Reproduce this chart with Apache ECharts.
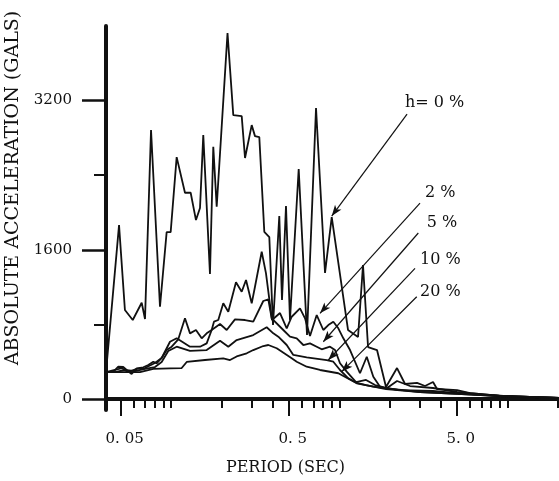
<!DOCTYPE html>
<html>
<head>
<meta charset="utf-8">
<script src="https://cdn.jsdelivr.net/npm/echarts@6.0.0/dist/echarts.min.js"></script>
<style>
html, body { margin: 0; padding: 0; background: #fff; }
#chart { width: 559px; height: 481px; }
</style>
</head>
<body>
<div id="chart"></div>
<script>
// response spectra, [period (sec), absolute acceleration (gals)]
var h0 = [[0.0409,289],[0.0489,1865],[0.0530,954],[0.0590,847],[0.0667,1032],[0.0698,858],[0.0758,2884],
	[0.0857,989],[0.0939,1790],[0.0992,1790],[0.1077,2594],[0.1207,2212],[0.1305,2212],[0.1403,1919],
	[0.1483,2048],[0.1551,2830],[0.1700,1340],[0.1779,2705],[0.1864,2061],[0.2162,3924],[0.2340,3044],
	[0.2626,3034],[0.2748,2584],[0.3012,2937],[0.3150,2819],[0.3342,2809],[0.3579,1793],[0.3833,1737],
	[0.4032,793],[0.4395,1962],[0.4561,1061],[0.4818,2069],[0.5089,847],[0.5734,2466],[0.6426,686],
	[0.7270,3120],[0.8224,1351],[0.9016,1951],[1.127,740],[1.293,665],[1.384,1436],[1.483,557],
	[1.677,525],[1.897,129],[2.206,332],[2.462,161],[2.902,172],[3.238,139],[3.613,182],[3.817,107],
	[5.021,96],[6.001,64],[7.893,43],[11.91,21],[20.3,11]];
var h2 = [[0.0409,289],[0.0450,289],[0.0484,346],[0.0518,343],[0.0543,311],[0.0581,268],[0.0623,329],
	[0.0682,340],[0.0730,364],[0.0782,400],[0.0819,383],[0.0877,440],[0.0939,525],[0.1006,561],
	[0.1101,640],[0.1207,865],[0.1293,704],[0.1403,740],[0.1518,651],[0.1625,704],[0.1740,740],
	[0.1796,829],[0.1905,847],[0.2040,1026],[0.2185,936],[0.2428,1251],[0.2626,1150],[0.2786,1276],
	[0.3012,1026],[0.3150,1204],[0.3454,1579],[0.3663,1347],[0.3977,847],[0.4438,922],[0.4865,758],
	[0.5210,882],[0.5838,972],[0.6252,865],[0.6695,675],[0.7340,900],[0.8035,740],[0.8604,793],
	[0.9215,829],[0.9867,758],[1.057,651],[1.159,525],[1.328,276],[1.457,453],[1.594,239],[1.747,132],
	[1.916,115],[2.206,193],[2.636,139],[3.613,118],[5.021,75],[9.05,32],[20.3,11]];
var h5 = [[0.0409,289],[0.0462,311],[0.0507,332],[0.0553,289],[0.0623,322],[0.0698,332],[0.0800,386],
	[0.0877,440],[0.0983,614],[0.1077,651],[0.1293,561],[0.1483,561],[0.1625,597],[0.1740,740],
	[0.1951,804],[0.2138,740],[0.2395,854],[0.2748,847],[0.3077,829],[0.3530,1051],[0.3781,1069],
	[0.3960,865],[0.4644,740],[0.5089,668],[0.5580,651],[0.6108,579],[0.6695,597],[0.7340,561],
	[0.7858,533],[0.8808,561],[0.9432,525],[1.010,383],[1.107,293],[1.258,182],[1.443,204],[1.632,150],
	[1.897,118],[2.299,96],[3.613,86],[5.021,64],[9.05,32],[20.3,11]];
var h10 = [[0.0409,289],[0.0462,289],[0.0530,311],[0.0608,300],[0.0698,322],[0.0800,343],[0.0877,397],
	[0.0960,515],[0.1077,561],[0.1293,515],[0.1625,525],[0.1951,625],[0.2185,561],[0.2451,632],
	[0.3077,686],[0.3698,769],[0.4049,704],[0.4336,668],[0.4865,579],[0.5325,472],[0.6398,447],
	[0.8418,418],[0.9215,400],[1.010,311],[1.132,222],[1.270,172],[1.443,150],[1.897,107],[3.023,75],
	[5.021,54],[9.05,32],[20.3,11]];
var h20 = [[0.0409,289],[0.0652,289],[0.0782,322],[0.0983,329],[0.1154,332],[0.1236,397],[0.1588,418],
	[0.2040,436],[0.2237,418],[0.2451,456],[0.2812,490],[0.3077,525],[0.3530,568],[0.3781,579],
	[0.4242,544],[0.5210,436],[0.5580,400],[0.6398,346],[0.7677,311],[0.9867,276],[1.270,168],
	[1.594,132],[1.916,115],[3.023,75],[5.021,54],[9.05,32],[20.3,11]];

var curves = [h0, h2, h5, h10, h20];
var names = ['h=0%', '2%', '5%', '10%', '20%'];

// annotation text and arrows, in data units
var noteText = ['h= 0 %', '2 %', '5 %', '10 %', '20 %'];
var noteAt = [[2.462,3173],[3.238,2208],[3.314,1887],[3.023,1490],[3.023,1147]];
var arrowFrom = [[2.531,3055],[3.023,2101],[2.953,1780],[2.823,1401],[2.89,1097]];
var arrowTo = [[0.9016,1962],[0.7677,919],[0.8035,614],[0.8604,418],[1.034,293]];

// axes
var xMajor = [0.05, 0.5, 5];
var xLabels = ['0. 05', '0. 5', '5. 0'];
var xMinor = [0.06,0.07,0.08,0.09,0.1,0.2,0.3,0.4,0.6,0.7,0.8,0.9,1,2,3,4,6,7,8,9,10,20];
var yMajor = [0, 1600, 3200];
var yMinor = [800, 2400];
var xMin = 0.0409, xMax = 20.3;
var yMin = -118, yMax = 4000;

var font = 'DejaVu Serif';
var ink = '#111';

function xLabel(v) {
	var best = 0;
	for (var i = 1; i < xMajor.length; i++) {
		if (Math.abs(Math.log(v / xMajor[i])) < Math.abs(Math.log(v / xMajor[best]))) best = i;
	}
	return xLabels[best];
}

var series = curves.map(function(d, i) {
	return {
		name : names[i],
		type : 'line',
		data : d,
		symbol : 'none',
		lineStyle : { color : ink, width : 1.8 },
		markLine : {
			silent : true,
			symbol : [ 'none', 'arrow' ],
			symbolSize : [ 6, 11 ],
			lineStyle : { color : ink, width : 1.2, type : 'solid' },
			label : { show : false },
			data : [ [ { coord : arrowFrom[i] }, { coord : arrowTo[i] } ] ]
		},
		markPoint : {
			silent : true,
			symbol : 'circle',
			symbolSize : 0,
			label : {
				show : true,
				position : 'right',
				distance : 0,
				formatter : noteText[i],
				color : ink,
				fontFamily : font,
				fontSize : 16
			},
			data : [ { coord : noteAt[i] } ]
		}
	};
});

var option = {
	animation : false,
	backgroundColor : '#fff',
	grid : { left : 106, right : 0, top : 26, bottom : 71, outerBoundsMode : 'none' },
	xAxis : [ {
		type : 'log',
		logBase : 10,
		min : xMin,
		max : xMax,
		axisLine : { onZero : true, lineStyle : { color : ink, width : 4 } },
		axisTick : { customValues : xMinor, length : 9, lineStyle : { color : ink, width : 2 } },
		minorTick : { show : false },
		axisLabel : {
			customValues : xMajor,
			formatter : xLabel,
			margin : 22,
			padding : [ 0, 0, 0, 8 ],
			color : ink,
			fontFamily : font,
			fontSize : 15
		},
		splitLine : { show : false },
		name : 'PERIOD (SEC)',
		nameLocation : 'middle',
		nameGap : 50,
		nameTextStyle : { color : ink, fontFamily : font, fontSize : 16, padding : [ 0, 94, 0, 0 ] }
	}, {
		type : 'log',
		logBase : 10,
		min : xMin,
		max : xMax,
		position : 'bottom',
		axisLine : { show : false, onZero : true },
		axisTick : { customValues : xMajor, length : 17, lineStyle : { color : ink, width : 2 } },
		minorTick : { show : false },
		axisLabel : { show : false },
		splitLine : { show : false }
	} ],
	yAxis : [ {
		type : 'value',
		min : yMin,
		max : yMax,
		position : 'left',
		axisLine : { show : true, onZero : false, lineStyle : { color : ink, width : 4 } },
		axisTick : { customValues : yMajor, length : 24, lineStyle : { color : ink, width : 2.5 } },
		axisLabel : {
			customValues : yMajor,
			formatter : function(v) { return String(v); },
			margin : 34,
			color : ink,
			fontFamily : font,
			fontSize : 15
		},
		splitLine : { show : false },
		name : 'ABSOLUTE ACCELERATION (GALS)',
		nameLocation : 'middle',
		nameGap : 75,
		nameTextStyle : { color : ink, fontFamily : font, fontSize : 19, padding : [ 0, 0, 0, 60 ] }
	}, {
		type : 'value',
		min : yMin,
		max : yMax,
		position : 'left',
		axisLine : { show : false, onZero : false },
		axisTick : { customValues : yMinor, length : 12, lineStyle : { color : ink, width : 2 } },
		axisLabel : { show : false },
		splitLine : { show : false }
	} ],
	series : series
};

var graph = echarts.init(document.getElementById('chart'));
graph.setOption(option);
</script>
</body>
</html>
